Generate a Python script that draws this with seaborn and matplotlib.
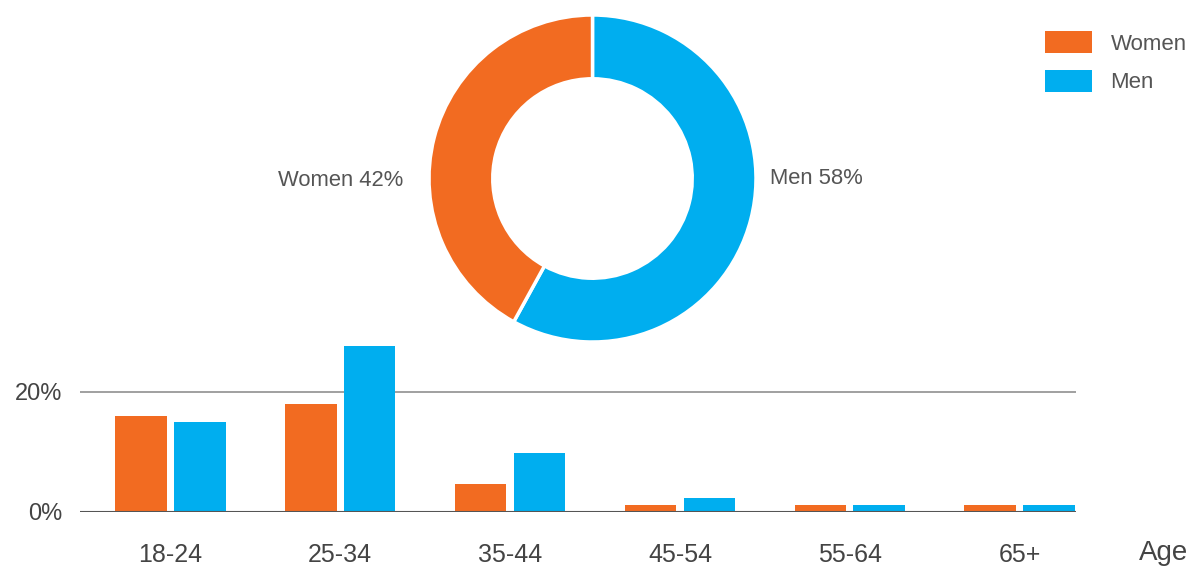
import matplotlib
matplotlib.use("Agg")
import matplotlib.pyplot as plt
import seaborn as sns
import pandas as pd

# ---- data ----
ages = ["18-24", "25-34", "35-44", "45-54", "55-64", "65+"]
women_pct = [16.0, 18.0, 4.7, 1.1, 1.2, 1.2]
men_pct = [15.0, 27.7, 9.8, 2.4, 1.2, 1.2]
share_labels = ["Men", "Women"]
share_values = [58, 42]
y_ticks = [0, 20]
y_tick_labels = ["0%", "20%"]

ORANGE = "#F26B21"
BLUE = "#00AEEF"

sns.set_theme(style="white")
plt.rcParams["font.family"] = ["Liberation Sans", "DejaVu Sans"]

W, H = 1189, 566
fig = plt.figure(figsize=(W / 100, H / 100), dpi=100)

# ---- bar chart ----
ax = fig.add_axes([80 / W, (H - 512) / H, (1076 - 80) / W, 180 / H])
df = pd.DataFrame({
    "age": ages * 2,
    "pct": women_pct + men_pct,
    "gender": ["Women"] * len(ages) + ["Men"] * len(ages),
})
sns.barplot(data=df, x="age", y="pct", hue="gender", order=ages,
            hue_order=["Women", "Men"], palette={"Women": ORANGE, "Men": BLUE},
            width=0.694, gap=0.12, saturation=1, linewidth=0, ax=ax)
ax.set_xlim(-0.53, 5.33)
ax.set_ylim(0, 30)
for s in ax.spines.values():
    s.set_visible(False)
ax.axhline(20, color="#999999", lw=1.3, zorder=0)
ax.axhline(0, color="#555555", lw=1.5, zorder=3)
ax.set_yticks(y_ticks)
ax.set_yticklabels(y_tick_labels)
ax.tick_params(axis="y", length=0, pad=13, labelsize=17, labelcolor="#444444")
ax.tick_params(axis="x", length=0, pad=22, labelsize=18, labelcolor="#444444")
ax.set_xlabel("")
ax.set_ylabel("")
handles, labels = ax.get_legend_handles_labels()
ax.get_legend().remove()
fig.text(1163.5 / W, (H - 553) / H, "Age", ha="center", va="center",
         fontsize=20, color="#444444")

# ---- legend ----
fig.legend(handles, labels, loc="upper left",
           bbox_to_anchor=(1045 / W, (H - 31) / H), bbox_transform=fig.transFigure,
           frameon=False, borderaxespad=0, borderpad=0, fontsize=16,
           handlelength=2.1, handleheight=1.16, labelspacing=0.68,
           handletextpad=0.85, labelcolor="#555555")

# ---- donut ----
R = 163.5
cx, cy = 592.5, 178.5
axp = fig.add_axes([(cx - R) / W, (H - cy - R) / H, 2 * R / W, 2 * R / H])
axp.pie(share_values, colors=[BLUE, ORANGE], startangle=90, counterclock=False,
        radius=1, wedgeprops=dict(width=0.39, edgecolor="white", linewidth=2.5))
axp.set_xlim(-1, 1)
axp.set_ylim(-1, 1)
axp.set_aspect("equal")
axp.axis("off")
axp.text(-1.16, -0.01, f"{share_labels[1]} {share_values[1]}%", ha="right", va="center",
         fontsize=15.8, color="#555555", clip_on=False)
axp.text(1.085, 0.0, f"{share_labels[0]} {share_values[0]}%", ha="left", va="center",
         fontsize=15.8, color="#555555", clip_on=False)

fig.savefig("out.png", dpi=100)
